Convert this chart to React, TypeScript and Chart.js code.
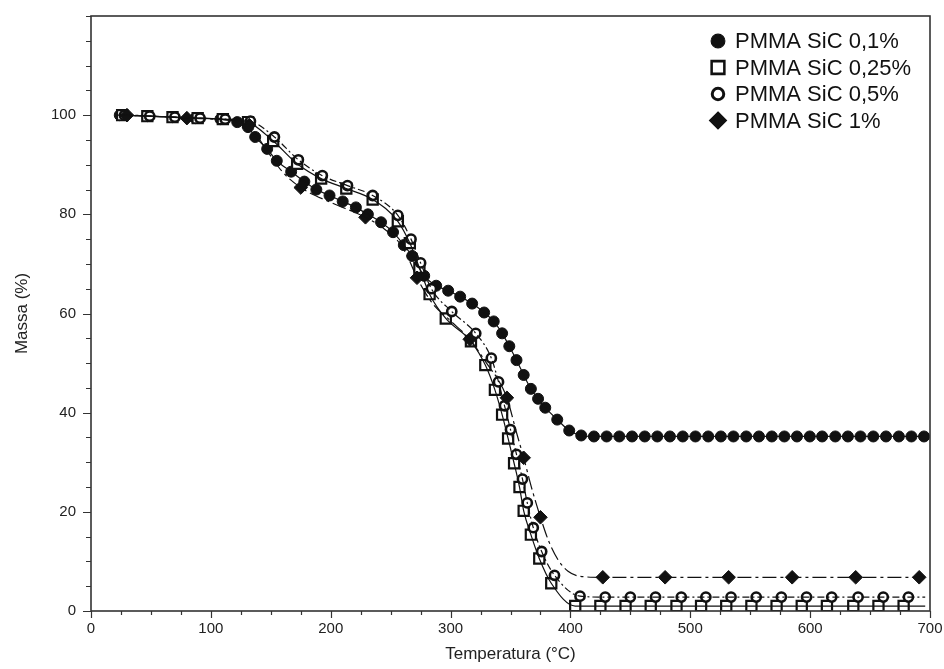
import React, { useEffect, useRef } from 'react';
import { Chart, registerables } from 'chart.js';

Chart.register(...registerables);

// ---------- Data ----------
const seriesLabels = ['PMMA SiC 0,1%', 'PMMA SiC 0,25%', 'PMMA SiC 0,5%', 'PMMA SiC 1%'];

// PMMA SiC 0,1% (filled circles, solid line)
const aTemp = [24, 47, 68, 87, 108, 122, 131, 137, 147, 155, 167, 178, 188, 199, 210, 221, 231, 242, 252, 261,
  268, 278, 288, 298, 308, 318, 328, 336, 343, 349, 355, 361, 367, 373, 379, 389, 399, 409,
  419.6, 430.2, 440.8, 451.4, 462, 472.5, 483, 493.7, 504.3, 515, 525.5, 536, 546.7, 557.3, 568,
  578.5, 589, 599.7, 610, 621, 631.5, 642, 652.7, 663.3, 674, 684.5, 695];
const aMass = [100, 99.8, 99.6, 99.4, 99.2, 98.6, 97.6, 95.6, 93.2, 90.8, 88.6, 86.6, 85.0, 83.8, 82.6, 81.4, 80.0, 78.4, 76.4, 73.8,
  71.6, 67.6, 65.6, 64.6, 63.4, 62.0, 60.2, 58.4, 56.0, 53.4, 50.6, 47.6, 44.8, 42.8, 41.0, 38.6, 36.4, 35.4,
  35.2, 35.2, 35.2, 35.2, 35.2, 35.2, 35.2, 35.2, 35.2, 35.2, 35.2, 35.2, 35.2, 35.2, 35.2,
  35.2, 35.2, 35.2, 35.2, 35.2, 35.2, 35.2, 35.2, 35.2, 35.2, 35.2, 35.2];

// PMMA SiC 0,25% (open squares, solid line)
const bTemp = [26, 47, 68, 89, 110, 131, 152, 172, 192, 213, 235, 256, 266, 274, 282.5, 296, 317, 329, 337, 343,
  348, 353, 357.5, 361, 367, 374, 384, 404, 425, 446, 467, 488.5, 509, 530, 551, 572, 593, 614, 636, 657, 678];
const bMass = [100, 99.8, 99.6, 99.4, 99.2, 98.6, 94.8, 90.2, 87.2, 85.2, 83.0, 78.6, 74.2, 69.2, 63.9, 59.0, 54.4, 49.6, 44.6, 39.6,
  34.8, 29.8, 25.0, 20.2, 15.4, 10.6, 5.6, 1.0, 1.0, 1.0, 1.0, 1.0, 1.0, 1.0, 1.0, 1.0, 1.0, 1.0, 1.0, 1.0, 1.0];
const bLineTemp = [...bTemp, 696];
const bLineMass = [...bMass, 1.0];

// PMMA SiC 0,5% (open circles, dashed line)
const cTemp = [28, 49, 70, 91, 112, 133, 153, 173, 193, 214, 235, 256, 267, 275, 284, 301, 321, 334, 340, 345,
  350, 355, 360, 364, 369, 376, 386.7, 408, 429, 450, 471, 492.5, 513, 534, 555, 576, 597, 618, 640, 661, 682];
const cMass = [100, 99.8, 99.6, 99.4, 99.2, 98.8, 95.6, 91.0, 87.8, 85.8, 83.8, 79.8, 75.0, 70.2, 65.0, 60.4, 56.0, 51.0, 46.2, 41.4,
  36.6, 31.6, 26.6, 21.8, 16.8, 12.0, 7.2, 3.0, 2.8, 2.8, 2.8, 2.8, 2.8, 2.8, 2.8, 2.8, 2.8, 2.8, 2.8, 2.8, 2.8];
const cLineTemp = [...cTemp, 696];
const cLineMass = [...cMass, 2.8];

// PMMA SiC 1% (filled diamonds, dash-dot line)
const dTemp = [30, 80, 132, 175, 229, 272, 316, 347, 361, 375, 427, 479, 532, 585, 638, 691];
const dMass = [100, 99.4, 98.0, 85.4, 79.4, 67.2, 54.8, 43.0, 30.9, 18.9, 6.8, 6.8, 6.8, 6.8, 6.8, 6.8];
const dLineTemp = [22, 30, 80, 115, 125, 132, 145, 160, 175, 200, 229, 245, 258, 265, 272, 285, 300, 316, 330, 340,
  347, 355, 361, 368, 375, 382, 390, 398, 408, 427, 695];
const dLineMass = [100, 100, 99.4, 99.0, 98.6, 98.0, 93.5, 88.5, 85.4, 82.4, 79.4, 77.0, 74.0, 71.0, 67.2, 62.0, 58.5, 54.8, 50.0, 46.5,
  43.0, 36.0, 30.9, 24.5, 18.9, 14.0, 10.2, 8.0, 7.0, 6.8, 6.8];

// Axes
const xMajorTicks = [0, 100, 200, 300, 400, 500, 600, 700];
const yMajorTicks = [0, 20, 40, 60, 80, 100];
const xMinorStep = 25;
const yMinorStep = 5;
const xMax = 700;
const yMax = 120;

const toPts = (xs: number[], ys: number[]) => xs.map((x, i) => ({ x, y: ys[i] }));

const FONT = "'Liberation Sans', Arial, sans-serif";
const INK = '#111';

const markerStyles = [
  { pointStyle: 'circle', radius: 5.5, fill: INK, border: INK, borderWidth: 1 },
  { pointStyle: 'rect', radius: 7.2, fill: '#fff', border: INK, borderWidth: 2.2 },
  { pointStyle: 'circle', radius: 4.6, fill: '#fff', border: INK, borderWidth: 2.6 },
  { pointStyle: 'rectRot', radius: 6.8, fill: INK, border: INK, borderWidth: 1 },
];

const framePlugin = {
  id: 'frameAndLegend',
  afterDraw(chart: any) {
    const { ctx, chartArea } = chart;
    const { left, right, top, bottom } = chartArea;
    const xs = chart.scales.x;
    const ys = chart.scales.y;
    ctx.save();
    // ticks
    ctx.strokeStyle = '#333';
    ctx.lineWidth = 1.2;
    ctx.beginPath();
    for (let v = 0; v <= xMax; v += xMinorStep) {
      const px = Math.round(xs.getPixelForValue(v)) + 0.5;
      const len = xMajorTicks.includes(v) ? 7 : 4;
      ctx.moveTo(px, bottom);
      ctx.lineTo(px, bottom + len);
    }
    for (let v = 0; v <= yMax; v += yMinorStep) {
      const py = Math.round(ys.getPixelForValue(v)) + 0.5;
      const len = yMajorTicks.includes(v) ? 8 : 5;
      ctx.moveTo(left, py);
      ctx.lineTo(left - len, py);
    }
    ctx.stroke();
    // frame
    ctx.strokeStyle = '#333';
    ctx.lineWidth = 1.6;
    ctx.strokeRect(left, top, right - left, bottom - top);

    // legend
    const mx = right - 212;
    const tx = right - 195;
    ctx.font = `22px ${FONT}`;
    ctx.textBaseline = 'middle';
    ctx.textAlign = 'left';
    ctx.fillStyle = INK;
    seriesLabels.forEach((label, i) => {
      const yy = top + 25 + i * 26.5;
      const m = markerStyles[i];
      const scale = 1.25;
      (Chart as any).helpers?.drawPoint;
      drawMarker(ctx, m.pointStyle, m.radius * scale, mx, yy, m.fill, m.border, m.borderWidth * 1.15);
      ctx.fillStyle = INK;
      ctx.fillText(label, tx, yy + 1);
    });
    ctx.restore();
  },
};

function drawMarker(ctx: CanvasRenderingContext2D, style: string, r: number, x: number, y: number, fill: string, stroke: string, bw: number) {
  ctx.save();
  ctx.fillStyle = fill;
  ctx.strokeStyle = stroke;
  ctx.lineWidth = bw;
  ctx.beginPath();
  if (style === 'circle') {
    ctx.arc(x, y, r, 0, Math.PI * 2);
  } else if (style === 'rect') {
    const s = r * Math.SQRT1_2;
    ctx.rect(x - s, y - s, 2 * s, 2 * s);
  } else {
    ctx.moveTo(x, y - r);
    ctx.lineTo(x + r, y);
    ctx.lineTo(x, y + r);
    ctx.lineTo(x - r, y);
    ctx.closePath();
  }
  ctx.fill();
  ctx.stroke();
  ctx.restore();
}

export default function App() {
  const ref = useRef<HTMLCanvasElement | null>(null);

  useEffect(() => {
    if (!ref.current) return;
    const lineBase = {
      type: 'scatter' as const,
      showLine: true,
      pointRadius: 0,
      pointHoverRadius: 0,
      borderColor: INK,
      borderWidth: 1.2,
      cubicInterpolationMode: 'monotone' as const,
      fill: false,
    };
    const markerBase = (i: number) => ({
      type: 'scatter' as const,
      showLine: false,
      pointStyle: markerStyles[i].pointStyle,
      pointRadius: markerStyles[i].radius,
      pointHoverRadius: markerStyles[i].radius,
      pointBackgroundColor: markerStyles[i].fill,
      pointBorderColor: markerStyles[i].border,
      pointBorderWidth: markerStyles[i].borderWidth,
    });

    const chart = new Chart(ref.current, {
      type: 'scatter',
      data: {
        datasets: [
          { ...lineBase, label: seriesLabels[3] + ' curve', data: toPts(dLineTemp, dLineMass), borderDash: [14, 4, 3, 4] },
          { ...lineBase, label: seriesLabels[2] + ' curve', data: toPts(cLineTemp, cLineMass), borderDash: [7, 3, 2, 3] },
          { ...lineBase, label: seriesLabels[1] + ' curve', data: toPts(bLineTemp, bLineMass) },
          { ...lineBase, label: seriesLabels[0] + ' curve', data: toPts(aTemp, aMass) },
          { ...markerBase(3), label: seriesLabels[3], data: toPts(dTemp, dMass) },
          { ...markerBase(2), label: seriesLabels[2], data: toPts(cTemp, cMass) },
          { ...markerBase(1), label: seriesLabels[1], data: toPts(bTemp, bMass) },
          { ...markerBase(0), label: seriesLabels[0], data: toPts(aTemp, aMass) },
        ] as any,
      },
      options: {
        animation: false,
        responsive: false,
        events: [],
        layout: { padding: { top: 12, right: 14, left: 0, bottom: 0 } },
        plugins: { legend: { display: false }, tooltip: { enabled: false } },
        scales: {
          x: {
            type: 'linear',
            min: 0,
            max: xMax,
            afterBuildTicks: (s: any) => { s.ticks = xMajorTicks.map((v) => ({ value: v })); },
            afterFit: (s: any) => { s.height = 58; },
            grid: { display: true, drawOnChartArea: false, color: 'rgba(0,0,0,0)', tickLength: 8 },
            border: { display: false },
            ticks: { color: '#222', font: { family: FONT, size: 15 }, padding: 1, maxRotation: 0, autoSkip: false },
            title: { display: true, text: 'Temperatura (°C)', color: '#222', font: { family: FONT, size: 17 }, padding: 4 },
          },
          y: {
            type: 'linear',
            min: 0,
            max: yMax,
            afterBuildTicks: (s: any) => { s.ticks = yMajorTicks.map((v) => ({ value: v })); },
            afterFit: (s: any) => { s.width = 91; },
            grid: { display: true, drawOnChartArea: false, color: 'rgba(0,0,0,0)', tickLength: 8 },
            border: { display: false },
            ticks: { color: '#222', font: { family: FONT, size: 15 }, padding: 7, autoSkip: false },
            title: { display: true, text: 'Massa (%)', color: '#222', font: { family: FONT, size: 17 }, padding: 12 },
          },
        },
      },
      plugins: [framePlugin],
    } as any);
    return () => chart.destroy();
  }, []);

  return (
    <div style={{ position: 'absolute', left: 0, top: 0, width: 944, height: 669, background: '#fff' }}>
      <canvas ref={ref} width={944} height={669} style={{ display: 'block' }} />
    </div>
  );
}
